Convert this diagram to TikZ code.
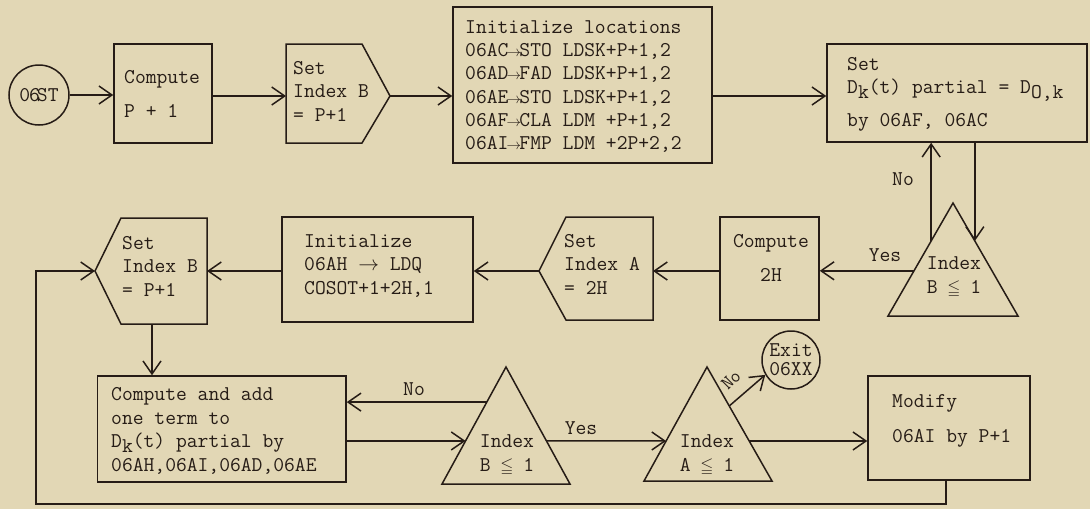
\documentclass[tikz,border=0pt]{standalone}
\usepackage{amssymb}
\usepackage{graphicx}
\usetikzlibrary{arrows.meta,calc}
\definecolor{paper}{RGB}{226,215,181}
\definecolor{ink}{RGB}{38,28,22}
\newcommand\tx{\fontsize{21}{23.5}\selectfont\ttfamily}
\newcommand\sar{\makebox[0.525em]{\scalebox{0.7}{$\rightarrow$}}}
\newcommand\lo[1]{\raisebox{-0.5ex}{#1}}
\newcommand\leqb{\makebox[0.525em]{\scalebox{0.8}{$\leqq$}}}
\begin{document}
\begin{tikzpicture}[x=1pt,y=-1pt,
  ln/.style={draw=ink, line width=1.5pt, line join=miter},
  arr/.style={ln, -{Straight Barb[length=13pt,width=18pt,line width=1.5pt]}},
  box/.style={ln, rectangle, inner sep=0pt},
  txt/.style={inner sep=0pt, font=\tx, text=ink, align=left, anchor=west},
  ctxt/.style={inner sep=0pt, font=\tx, text=ink, align=center},
  lbl/.style={inner sep=0pt, font=\tx, text=ink}]
\fill[paper] (0,0) rectangle (1090,509);
\useasboundingbox (0,0) rectangle (1090,509);

% ---------- top row ----------
\node[ln, circle, minimum size=60pt, inner sep=0pt, font=\tx, text=ink] (st) at (39,95) {0\kern-1pt6\kern-3pt ST};

\node[box, minimum width=98pt, minimum height=99pt] (p1) at (163,93.5) {};
\node[txt] (p1t) at (124,94) {Compute\\[10.5pt]P + 1};

\coordinate (sb1w) at (286,96);
\coordinate (sb1p) at (390,96);
\draw[ln] (286,44) -- (362,44) -- (sb1p) -- (362,143) -- (286,143) -- cycle;
\node[txt] (sb1t) at (293,91) {Set\\Index B\\= P+1};

\node[box, minimum width=259pt, minimum height=156pt] (ini) at (582.5,85) {};
\node[txt, font=\fontsize{21}{23.2}\selectfont\ttfamily] (init) at (465,86.5) {Initialize locations\\
06AC\sar STO LDSK+P+1,2\\
06AD\sar FAD LDSK+P+1,2\\
06AE\sar STO LDSK+P+1,2\\
06AF\sar CLA LDM +P+1,2\\
06AI\sar FMP LDM +2P+2,2};

\node[box, minimum width=260pt, minimum height=98pt] (set) at (957,93) {};
\node[txt] (sett) at (847,94) {Set\\D\lo{k}(t) partial = D\lo{O,k}\\[9pt]by 06AF, 06AC};

\draw[arr] (st) -- (p1.west |- st);
\draw[arr] (p1.east |- sb1w) -- (sb1w);
\draw[arr] (sb1p) -- (ini.west |- sb1p);
\draw[arr] (ini.east |- sb1p) -- (set.west |- sb1p);

% ---------- right decision ----------
\coordinate (t1a) at (953,203);
\coordinate (t1l) at (888,316);
\coordinate (t1r) at (1018,316);
\draw[ln] (t1a) -- (t1l) -- (t1r) -- cycle;
\node[ctxt] (t1t) at (954,277) {Index\\B \leqb{} 1};
\coordinate (t1nl) at ($(t1a)!0.336!(t1l)$);
\coordinate (t1nr) at ($(t1a)!0.336!(t1r)$);
\coordinate (t1y) at ($(t1a)!0.6!(t1l)$);
\draw[arr] (t1nl) -- (t1nl |- set.south);
\draw[arr] (set.south -| t1nr) -- (t1nr);
\node[lbl] (no1) at (903,179) {No};

% ---------- middle row ----------
\node[box, minimum width=99pt, minimum height=103pt] (c2) at (769.5,268.5) {};
\node[ctxt] (c2t) at (771,258) {Compute\\[11pt]2H};
\draw[arr] (t1y) -- (c2.east |- t1y);
\node[lbl] (yes1) at (885,255) {Yes};

\coordinate (sap) at (539,271);
\coordinate (sae) at (653,271);
\draw[ln] (sap) -- (566,217) -- (653,217) -- (653,320) -- (566,320) -- cycle;
\node[txt] (sat) at (564,264) {Set\\Index A\\= 2H};
\draw[arr] (c2.west |- sae) -- (sae);

\node[box, minimum width=191pt, minimum height=105pt] (ini2) at (377.5,269.5) {};
\node[txt] (ini2t) at (304,266) {Initialize\\06AH $\rightarrow$ LDQ\\COSOT+1+2H,1};
\draw[arr] (sap) -- (sap -| ini2.east);

\coordinate (sb2p) at (95,271);
\coordinate (sb2e) at (207,271);
\coordinate (sb2b) at (152,324);
\draw[ln] (sb2p) -- (121,218) -- (207,218) -- (207,324) -- (121,324) -- cycle;
\node[txt] (sb2t) at (122,266) {Set\\Index B\\= P+1};
\draw[arr] (ini2.west |- sb2e) -- (sb2e);

% ---------- bottom row ----------
\node[box, minimum width=248.5pt, minimum height=106pt] (cadd) at (221.75,429) {};
\node[txt] (caddt) at (111,431) {Compute and add\\one term to\\D\lo{k}(t) partial by\\06AH,06AI,06AD,06AE};
\draw[arr] (sb2b) -- (sb2b |- cadd.north);

\coordinate (t2a) at (506,367);
\coordinate (t2l) at (442,484);
\coordinate (t2r) at (570,484);
\draw[ln] (t2a) -- (t2l) -- (t2r) -- cycle;
\node[ctxt] (t2t) at (507,455) {Index\\B \leqb{} 1};
\coordinate (t2n) at ($(t2a)!0.3!(t2l)$);
\coordinate (t2i) at ($(t2a)!0.632!(t2l)$);
\coordinate (t2o) at ($(t2a)!0.632!(t2r)$);
\draw[arr] (t2n) -- (t2n -| cadd.east);
\node[lbl] (no2) at (414,389) {No};
\draw[arr] (cadd.east |- t2i) -- (t2i);

\coordinate (t3a) at (707,367);
\coordinate (t3l) at (644,481);
\coordinate (t3r) at (772,481);
\draw[ln] (t3a) -- (t3l) -- (t3r) -- cycle;
\node[ctxt] (t3t) at (707,455) {Index\\A \leqb{} 1};
\coordinate (t3i) at ($(t3a)!0.649!(t3l)$);
\coordinate (t3o) at ($(t3a)!0.649!(t3r)$);
\coordinate (t3n) at ($(t3a)!0.342!(t3r)$);
\draw[arr] (t2o) -- (t3i);
\node[lbl] (yes2) at (581,428) {Yes};

\node[ln, circle, minimum size=58pt, inner sep=0pt, font=\fontsize{21}{19}\selectfont\ttfamily, text=ink, align=center] (ex) at (791,360) {Exit\\06XX};
\draw[arr] (t3n) -- (ex.210);
\node[lbl, rotate=45, font=\fontsize{19}{20}\selectfont\ttfamily] (no3) at (731,380) {No};

\node[box, minimum width=162pt, minimum height=104pt] (mod) at (949,428) {};
\node[txt] (modt) at (892,421) {Modify\\[12pt]06AI by P+1};
\draw[arr] (t3o) -- (t3o -| mod.west);

\coordinate (lp1) at (946,504);
\coordinate (lp2) at (36,504);
\coordinate (lp3) at (36,271);
\draw[arr] (mod.south -| lp1) -- (lp1) -- (lp2) -- (lp3) -- (sb2p);
\end{tikzpicture}
\end{document}
